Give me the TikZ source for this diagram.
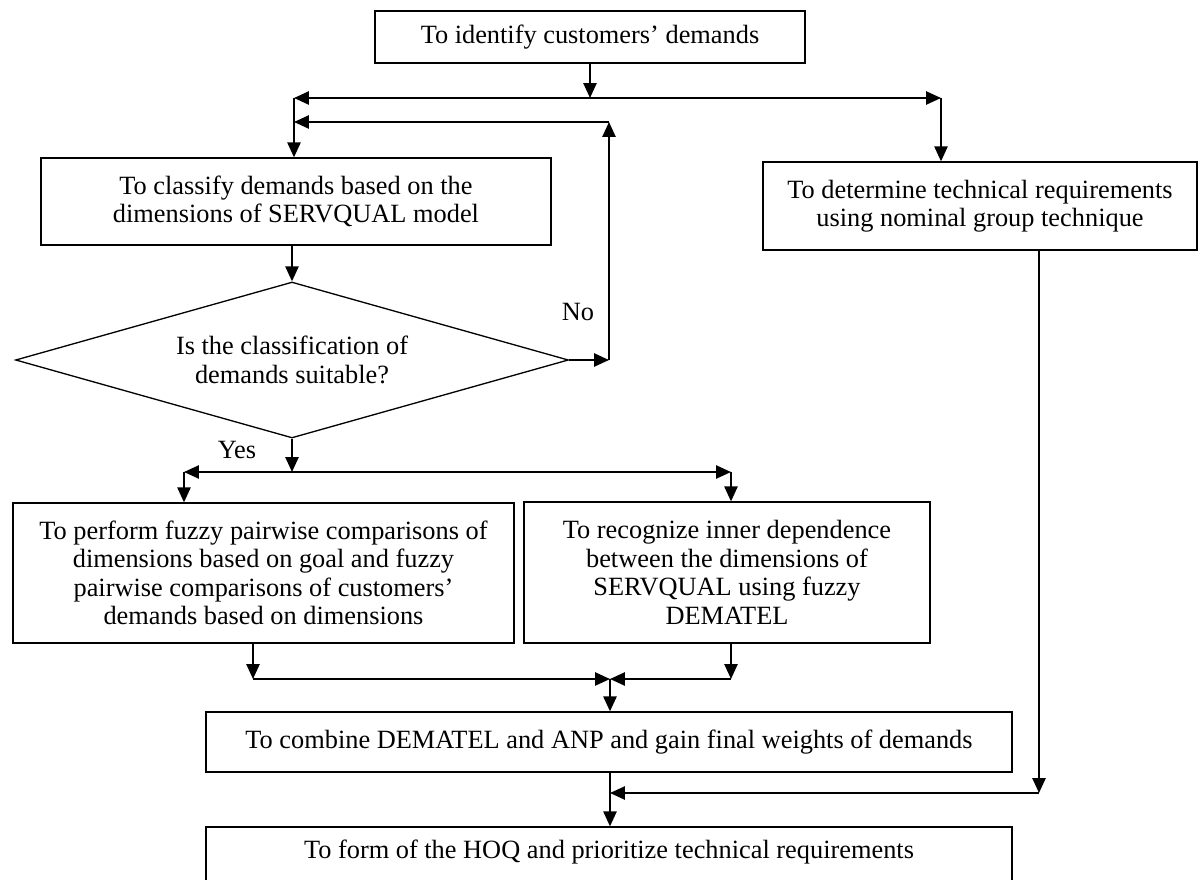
\documentclass[tikz,border=0pt]{standalone}
\usepackage{fontspec}
\setmainfont{Liberation Serif}
\usetikzlibrary{arrows.meta, positioning, calc, shapes.geometric}

\begin{document}
\begin{tikzpicture}[x=0.02cm, y=-0.02cm,
    every node/.style={font=\fontsize{15}{16.2}\selectfont},
    box/.style={draw, line width=0.75pt, align=center, inner sep=0pt},
    choice/.style={draw, line width=0.75pt, diamond, aspect=3.5, align=center, inner sep=0pt},
    arr/.style={line width=1.1pt, -{Triangle[length=8.5pt, width=7.5pt]}}]
    \useasboundingbox (0,0) rectangle (1200,879);
    \node[box, minimum width=8.6cm, minimum height=1.04cm] (ident) at (590,37) {To identify customers’ demands};
    \node[box, minimum width=10.2cm, minimum height=1.74cm] (classify) at (296,201.5)
        {To classify demands based on the\\dimensions of SERVQUAL model};
    \node[box, minimum width=8.68cm, minimum height=1.76cm] (techreq) at (980,206)
        {To determine technical requirements\\using nominal group technique};
    \node[choice, minimum width=11.06cm, minimum height=3.12cm] (check) at (292,360)
        {Is the classification of\\demands suitable?};
    \node[box, minimum width=10.02cm, minimum height=2.8cm] (pairwise) at (263.5,573)
        {To perform fuzzy pairwise comparisons of\\dimensions based on goal and fuzzy\\pairwise comparisons of customers’\\demands based on dimensions};
    \node[box, minimum width=8.12cm, minimum height=2.82cm] (dematel) at (727,572.5)
        {To recognize inner dependence\\between the dimensions of\\SERVQUAL using fuzzy\\DEMATEL};
    \node[box, minimum width=16.12cm, minimum height=1.2cm] (combine) at (609,742)
        {To combine DEMATEL and ANP and gain final weights of demands};
    \node[box, minimum width=16.12cm, text height=0.62cm, text depth=1.6cm, anchor=base] (hoq) at (609,858)
        {To form of the HOQ and prioritize technical requirements};
    \node (no) at (578,312) {No};
    \node (yes) at (237,450) {Yes};

    \coordinate (j1) at (590,98);
    \coordinate (lft) at (294,98);
    \coordinate (rgt) at (941,98);
    \coordinate (back) at (609,122);
    \coordinate (j2) at (292,472);
    \coordinate (l2) at (184,472);
    \coordinate (r2) at (731,472);
    \coordinate (j3) at (610,679);
    \coordinate (l3) at (253,679);
    \coordinate (r3) at (731,679);
    \coordinate (r4) at (1039,793);
    \coordinate (j4) at (610,793);

    \draw[arr] (j1 |- ident.south) -- (j1);
    \draw[arr] (j1) -- (lft);
    \draw[arr] (j1) -- (rgt);
    \draw[arr] (lft) -- (lft |- classify.north);
    \draw[arr] (rgt) -- (rgt |- techreq.north);
    \draw[arr] (check.north |- classify.south) -- (check.north);
    \draw[arr] (check.east) -- (check.east -| back);
    \draw[arr] (check.east -| back) -- (back);
    \draw[arr] (back) -- (lft |- back);
    \draw[arr] (check.south) -- (j2);
    \draw[arr] (j2) -- (l2);
    \draw[arr] (j2) -- (r2);
    \draw[arr] (l2) -- (l2 |- pairwise.north);
    \draw[arr] (r2) -- (r2 |- dematel.north);
    \draw[arr] (l3 |- pairwise.south) -- (l3);
    \draw[arr] (r3 |- dematel.south) -- (r3);
    \draw[arr] (l3) -- (j3);
    \draw[arr] (r3) -- (j3);
    \draw[arr] (j3) -- (j3 |- combine.north);
    \draw[arr] (r4 |- techreq.south) -- (r4);
    \draw[arr] (r4) -- (j4);
    \draw[arr] (j4 |- combine.south) -- (j4 |- hoq.north);
\end{tikzpicture}
\end{document}
